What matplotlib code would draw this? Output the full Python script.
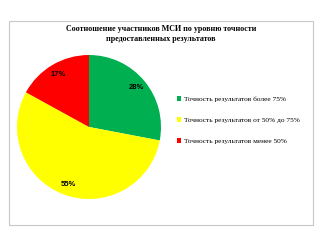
import matplotlib
matplotlib.use("Agg")
import matplotlib.pyplot as plt
from matplotlib.patches import Rectangle, Patch

title = "Соотношение участников МСИ по уровню точности\nпредоставленных результатов"
labels = ["Точность результатов более 75%",
          "Точность результатов от 50% до 75%",
          "Точность результатов менее 50%"]
shares = [28, 55, 17]
colors = ["#00B050", "#FFFF00", "#FF0000"]

plt.rcParams['font.family'] = ['Liberation Serif', 'DejaVu Serif']

fig = plt.figure(figsize=(3.2, 2.4), dpi=100)
W, H = 320, 240

# chart frame
fig.patches.append(Rectangle((9 / W, 1 - 225 / H), 304 / W, 204 / H,
                             transform=fig.transFigure, fill=False,
                             edgecolor="#c8c8c8", linewidth=0.8))

fig.text(161 / W, 1 - 34 / H, title, ha="center", va="center",
         fontsize=5.8, fontweight="bold", linespacing=1.35)

cx, cy, r = 89, 127, 72
ax = fig.add_axes([(cx - r) / W, 1 - (cy + r) / H, 2 * r / W, 2 * r / H])
wedges, texts, autotexts = ax.pie(shares, colors=colors, startangle=90,
                                  counterclock=False, autopct="%d%%",
                                  pctdistance=0.85, radius=1.0)
for t in autotexts:
    t.set_fontsize(5.5)
    t.set_fontweight("bold")
    t.set_family(["Liberation Sans", "DejaVu Sans"])
ax.set_xlim(-1, 1)
ax.set_ylim(-1, 1)
ax.set_aspect("equal")

handles = [Patch(facecolor=c, edgecolor="none") for c in colors]
fig.legend(handles, labels, loc="upper left",
           bbox_to_anchor=(174 / W, 1 - 93 / H), frameon=False,
           fontsize=5.3, handlelength=0.6, handleheight=0.6,
           handletextpad=0.4, labelspacing=2.05, borderaxespad=0)

fig.savefig("out.png", dpi=100)
